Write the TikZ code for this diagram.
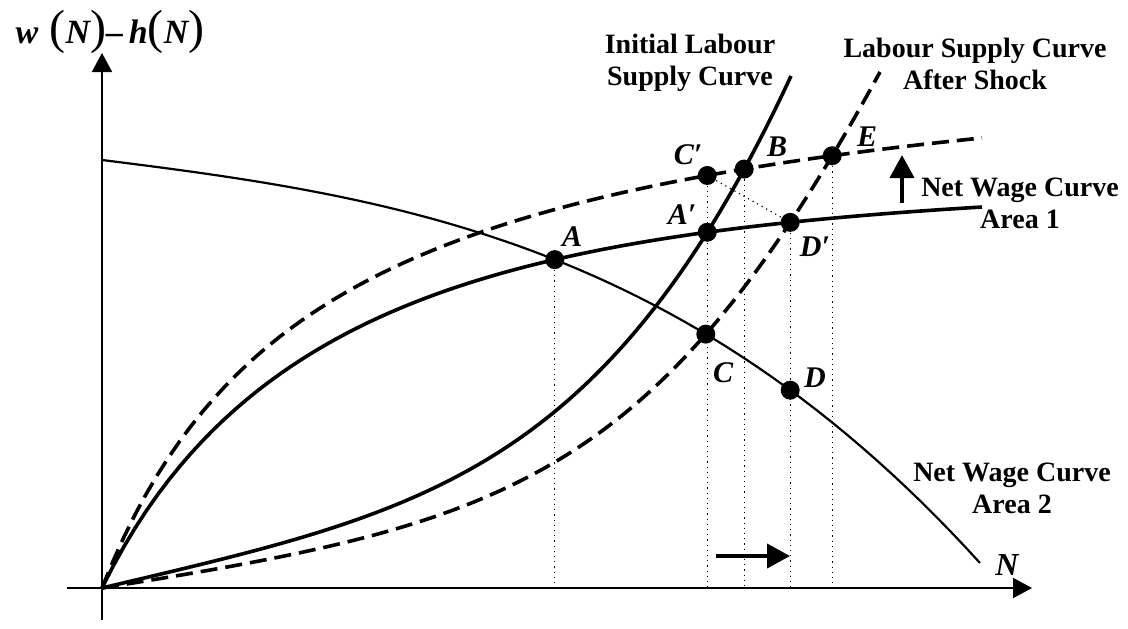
\documentclass[tikz,border=0pt]{standalone}
\usepackage{fontspec}
\setmainfont{Liberation Serif}
\usetikzlibrary{arrows.meta, intersections}

\newcommand{\bigpar}[1]{{\fontsize{24}{24}\selectfont\mdseries\upshape #1}}

\tikzset{
  axis/.style={line width=1pt, -{Triangle[length=9.5pt,width=10pt]}},
  thickcurve/.style={line width=1.8pt},
  thincurve/.style={line width=1.1pt},
  dashcurve/.style={line width=1.8pt, dash pattern=on 8.5pt off 4pt},
  guide/.style={line width=0.6pt, dotted},
  shiftarrow/.style={line width=2pt, -{Triangle[length=11.5pt,width=12pt]}},
  dot/.style={circle, fill=black, inner sep=0pt, minimum size=9.5pt},
  pointlabel/.style={font=\fontsize{15}{15}\selectfont\bfseries\itshape, inner sep=0pt},
  curvelabel/.style={font=\fontsize{14}{16}\selectfont\bfseries, align=center, inner sep=0pt},
}

\begin{document}
\begin{tikzpicture}[x=0.5pt, y=0.5pt]
	\useasboundingbox (-102,-40) rectangle (1026,588);
	% axes
	\coordinate (O) at (0,0);
	\coordinate (ybot) at (0,-32);
	\coordinate (ytop) at (0,535);
	\coordinate (xleft) at (-35,0);
	\coordinate (xright) at (930,0);
	\draw[axis] (ybot) -- (ytop);
	\draw[axis] (xleft) -- (xright);
	\node[font=\fontsize{17}{17}\selectfont\bfseries\itshape, inner sep=0pt] (ylab) at (8,556)
		{w\,\,\bigpar{(}N\bigpar{)}–\,h\bigpar{(}N\bigpar{)}};
	\node[pointlabel, font=\fontsize{16}{16}\selectfont\bfseries\itshape] (xlab) at (905,23) {N};

	% net wage curve, area 2
	\draw[thincurve, name path=area2] plot[domain=0:8.78, samples=60]
		({100*\x}, {428 - 12.47*\x - 0.291*\x*\x - 0.4005*\x*\x*\x});
	% net wage curve, area 1 (before and after)
	\draw[thickcurve, name path=wage1] plot[domain=0:8.8, samples=80]
		({100*\x}, {196.3*(1-exp(-\x/2.5)) + 229.45*\x/(1.8+\x)});
	\draw[dashcurve, name path=wage2] plot[domain=0:8.8, samples=80]
		({100*\x}, {562.7*\x/(2.203+\x)});
	% labour supply curves
	\draw[thickcurve, name path=supply1] (O) .. controls (316,75) and (502,110) .. (689,512);
	\draw[dashcurve, name path=supply2] (O) .. controls (400,64) and (552,102) .. (778,516);

	% equilibrium points
	\path[name intersections={of=wage1 and area2}] (intersection-1) coordinate (A);
	\path[name intersections={of=area2 and supply2}] (intersection-1) coordinate (C);
	\path[name intersections={of=wage1 and supply1, sort by=wage1, total=\ntot}]
		(intersection-\ntot) coordinate (A');
	\path[name intersections={of=wage2 and supply1, sort by=wage2, total=\ntot}]
		(intersection-\ntot) coordinate (B);
	\path[name intersections={of=wage2 and supply2, sort by=wage2, total=\ntot}]
		(intersection-\ntot) coordinate (E);
	\path[name intersections={of=wage1 and supply2, sort by=wage1, total=\ntot}]
		(intersection-\ntot) coordinate (D');
	\path[name path=vertA] (A') -- ++(0,150);
	\path[name intersections={of=wage2 and vertA}] (intersection-1) coordinate (C');
	\path[name path=vertD] (D') -- ++(0,-300);
	\path[name intersections={of=area2 and vertD}] (intersection-1) coordinate (D);

	% guide lines
	\foreach \p in {A, C', B, D', E}
		\draw[guide] (\p) -- (\p |- O);
	\draw[guide] (C') -- (D');

	% dots
	\foreach \p in {A, A', C', C, B, D', D, E}
		\node[dot] (dot\p) at (\p) {};

	\node[pointlabel] (labA) at (470,351) {A};
	\node[pointlabel] (labC') at (586,433) {C′};
	\node[pointlabel] (labB) at (675,441) {B};
	\node[pointlabel] (labA') at (580,373) {A′};
	\node[pointlabel] (labD') at (713,341) {D′};
	\node[pointlabel] (labE) at (765,451) {E};
	\node[pointlabel] (labC) at (621,215) {C};
	\node[pointlabel] (labD) at (713,210) {D};

	% shifts
	\coordinate (sh1) at (614,32);
	\coordinate (sh2) at (688,32);
	\draw[shiftarrow] (sh1) -- (sh2);
	\coordinate (up1) at (800,385);
	\coordinate (up2) at (800,433);
	\draw[shiftarrow] (up1) -- (up2);

	\node[curvelabel] (initial) at (588,525) {Initial Labour\\Supply Curve};
	\node[curvelabel] (after) at (873,524) {Labour Supply Curve\\After Shock};
	\node[curvelabel] (area1) at (918,385) {Net Wage Curve\\Area 1};
	\node[curvelabel] (area2) at (910,100) {Net Wage Curve\\Area 2};
\end{tikzpicture}
\end{document}
